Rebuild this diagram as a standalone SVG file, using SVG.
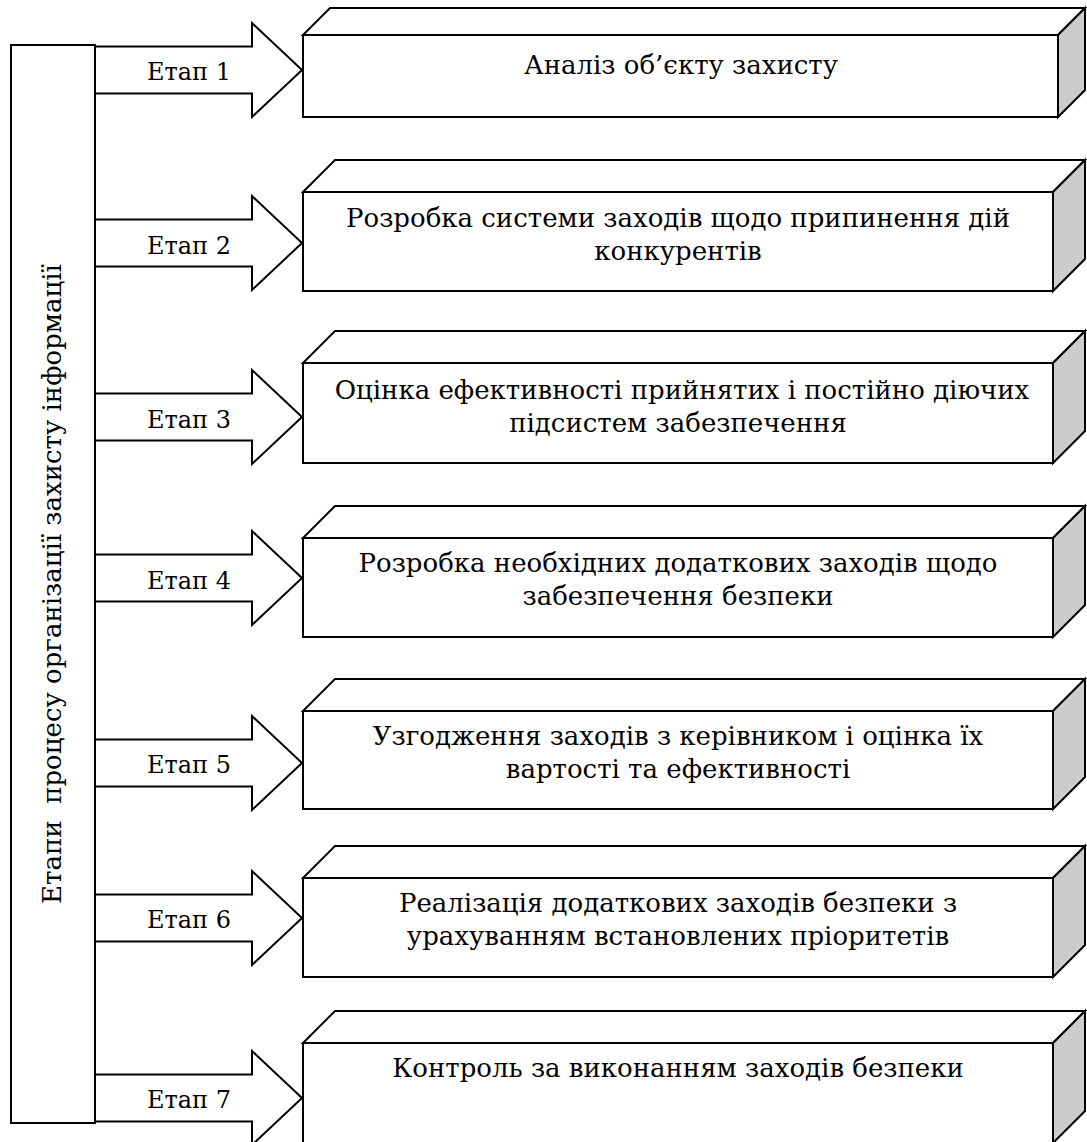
<svg xmlns="http://www.w3.org/2000/svg" width="1087" height="1142" viewBox="0 0 1087 1142">
<defs>
<style>
.ln{fill:#fff;stroke:#000;stroke-width:2;stroke-linejoin:miter}
.sd{fill:#cccccc;stroke:#000;stroke-width:2}
.lb{font-size:24px}
</style>
</defs>
<rect width="1087" height="1142" fill="#fff"/>
<g font-family="DejaVu Serif, serif" font-size="26" text-anchor="middle" fill="#000">
<g id="stages">
<rect class="ln" x="11" y="45" width="84" height="1078"/>
<text transform="translate(61,584) rotate(-90)" xml:space="preserve">Етапи  процесу організації захисту інформації</text>
</g>
<g id="connectors">
<polygon class="ln" points="95,46.5 252,46.5 252,23 302,70 252,117 252,93.5 95,93.5"/>
<text class="lb" x="189" y="80">Етап 1</text>
<polygon class="ln" points="95,219.5 252,219.5 252,196 302,243 252,290 252,266.5 95,266.5"/>
<text class="lb" x="189" y="254">Етап 2</text>
<polygon class="ln" points="95,393.5 252,393.5 252,370 302,417 252,464 252,440.5 95,440.5"/>
<text class="lb" x="189" y="428">Етап 3</text>
<polygon class="ln" points="95,554.5 252,554.5 252,531 302,578 252,625 252,601.5 95,601.5"/>
<text class="lb" x="189" y="589">Етап 4</text>
<polygon class="ln" points="95,739.5 252,739.5 252,716 302,763 252,810 252,786.5 95,786.5"/>
<text class="lb" x="189" y="773">Етап 5</text>
<polygon class="ln" points="95,894.5 252,894.5 252,871 302,918 252,965 252,941.5 95,941.5"/>
<text class="lb" x="189" y="928">Етап 6</text>
<polygon class="ln" points="95,1074.5 252,1074.5 252,1051 302,1098 252,1145 252,1121.5 95,1121.5"/>
<text class="lb" x="189" y="1108">Етап 7</text>
</g>
<g id="box1">
<rect class="ln" x="303" y="35" width="755" height="82"/>
<polygon class="ln" points="303,35 330,8 1085,8 1058,35"/>
<polygon class="sd" points="1058,35 1085,8 1085,90 1058,117"/>
<text x="681" y="74">Аналіз об’єкту захисту</text>
</g>
<g id="box2">
<rect class="ln" x="303" y="192" width="750" height="99"/>
<polygon class="ln" points="303,192 335,160 1085,160 1053,192"/>
<polygon class="sd" points="1053,192 1085,160 1085,259 1053,291"/>
<text x="678" y="227">Розробка системи заходів щодо припинення дій</text>
<text x="678" y="260">конкурентів</text>
</g>
<g id="box3">
<rect class="ln" x="303" y="363" width="750" height="100"/>
<polygon class="ln" points="303,363 335,331 1085,331 1053,363"/>
<polygon class="sd" points="1053,363 1085,331 1085,431 1053,463"/>
<text x="682" y="399">Оцінка ефективності прийнятих і постійно діючих</text>
<text x="678" y="432">підсистем забезпечення</text>
</g>
<g id="box4">
<rect class="ln" x="303" y="538" width="750" height="99"/>
<polygon class="ln" points="303,538 335,506 1085,506 1053,538"/>
<polygon class="sd" points="1053,538 1085,506 1085,605 1053,637"/>
<text x="678" y="572">Розробка необхідних додаткових заходів щодо</text>
<text x="678" y="605">забезпечення безпеки</text>
</g>
<g id="box5">
<rect class="ln" x="303" y="711" width="750" height="98"/>
<polygon class="ln" points="303,711 335,679 1085,679 1053,711"/>
<polygon class="sd" points="1053,711 1085,679 1085,777 1053,809"/>
<text x="678" y="745">Узгодження заходів з керівником і оцінка їх</text>
<text x="678" y="778">вартості та ефективності</text>
</g>
<g id="box6">
<rect class="ln" x="303" y="878" width="750" height="99"/>
<polygon class="ln" points="303,878 335,846 1085,846 1053,878"/>
<polygon class="sd" points="1053,878 1085,846 1085,945 1053,977"/>
<text x="678" y="912">Реалізація додаткових заходів безпеки з</text>
<text x="678" y="945">урахуванням встановлених пріоритетів</text>
</g>
<g id="box7">
<rect class="ln" x="303" y="1043" width="750" height="100"/>
<polygon class="ln" points="303,1043 335,1011 1085,1011 1053,1043"/>
<polygon class="sd" points="1053,1043 1085,1011 1085,1111 1053,1143"/>
<text x="678" y="1077">Контроль за виконанням заходів безпеки</text>
</g>
</g>
</svg>
